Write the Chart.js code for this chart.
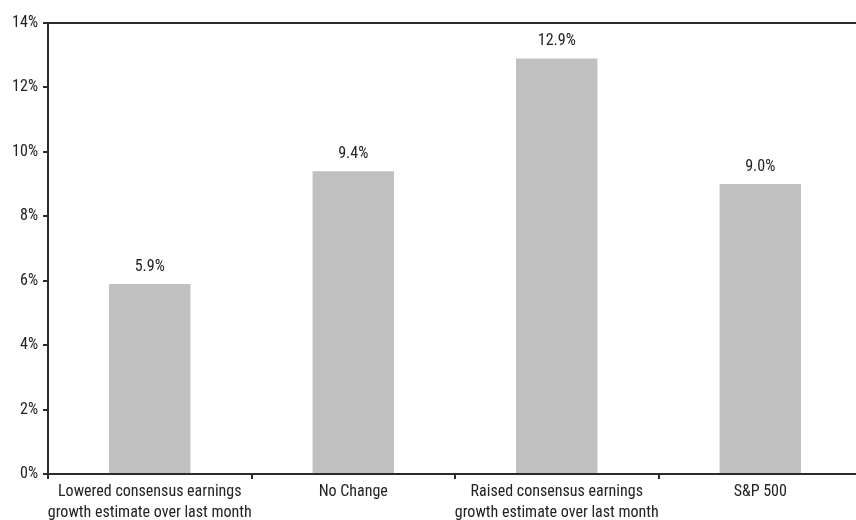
<!DOCTYPE html>
<html>
<head>
<meta charset="utf-8">
<script src="https://cdn.jsdelivr.net/npm/chart.js@4"></script>
<style>
  html, body { margin: 0; padding: 0; background: #fff; overflow: hidden; }
  #wrap { position: relative; width: 862px; height: 520px; }
</style>
</head>
<body>
<div id="wrap"><canvas id="chart"></canvas></div>
<script>
  const categories = [
    ['Lowered consensus earnings', 'growth estimate over last month'],
    'No Change',
    ['Raised consensus earnings', 'growth estimate over last month'],
    'S&P 500'
  ];
  const growthValues = [5.9, 9.4, 12.9, 9.0];
  const yTicks = [0, 2, 4, 6, 8, 10, 12, 14];

  const FONT = "'Liberation Sans Narrow', 'Arial Narrow', 'Roboto Condensed', 'Liberation Sans', sans-serif";
  const AXIS = '#2b2b2b';

  // draws the value above each bar and the top frame line
  const extras = {
    id: 'extras',
    afterDatasetsDraw(chart) {
      const ctx = chart.ctx;
      const area = chart.chartArea;
      ctx.save();
      ctx.strokeStyle = AXIS;
      ctx.lineWidth = 2;
      ctx.beginPath();
      ctx.moveTo(area.left - 1, area.top);
      ctx.lineTo(chart.width, area.top);
      ctx.stroke();

      ctx.fillStyle = '#222';
      ctx.font = '16px ' + FONT;
      ctx.textAlign = 'center';
      ctx.textBaseline = 'bottom';
      chart.getDatasetMeta(0).data.forEach((bar, i) => {
        ctx.fillText(growthValues[i].toFixed(1) + '%', bar.x, bar.y - 9);
      });
      ctx.restore();
    }
  };

  new Chart(document.getElementById('chart'), {
    type: 'bar',
    data: {
      labels: categories,
      datasets: [{
        data: growthValues,
        backgroundColor: '#c0c0c0',
        categoryPercentage: 0.4,
        barPercentage: 1
      }]
    },
    options: {
      responsive: true,
      maintainAspectRatio: false,
      animation: false,
      layout: { padding: { top: 23, right: 0, left: 0, bottom: 0 } },
      plugins: { legend: { display: false }, tooltip: { enabled: false } },
      scales: {
        x: {
          offset: true,
          afterFit(axis) { axis.height = 46; },
          grid: { offset: true, drawOnChartArea: false, drawTicks: true, tickLength: 5, color: AXIS, lineWidth: 2 },
          border: { color: AXIS, width: 2 },
          ticks: { color: '#222', font: { family: FONT, size: 16, lineHeight: 1.3 }, padding: 3, maxRotation: 0, autoSkip: false }
        },
        y: {
          min: 0,
          max: 14,
          afterBuildTicks(axis) { axis.ticks = yTicks.map((v) => ({ value: v })); },
          afterFit(axis) { axis.width = 48; },
          grid: { drawOnChartArea: false, drawTicks: true, tickLength: 5, color: AXIS, lineWidth: 2 },
          border: { color: AXIS, width: 2 },
          ticks: { color: '#222', font: { family: FONT, size: 16 }, padding: 5, callback: (v) => v + '%' }
        }
      }
    },
    plugins: [extras]
  });
</script>
</body>
</html>
